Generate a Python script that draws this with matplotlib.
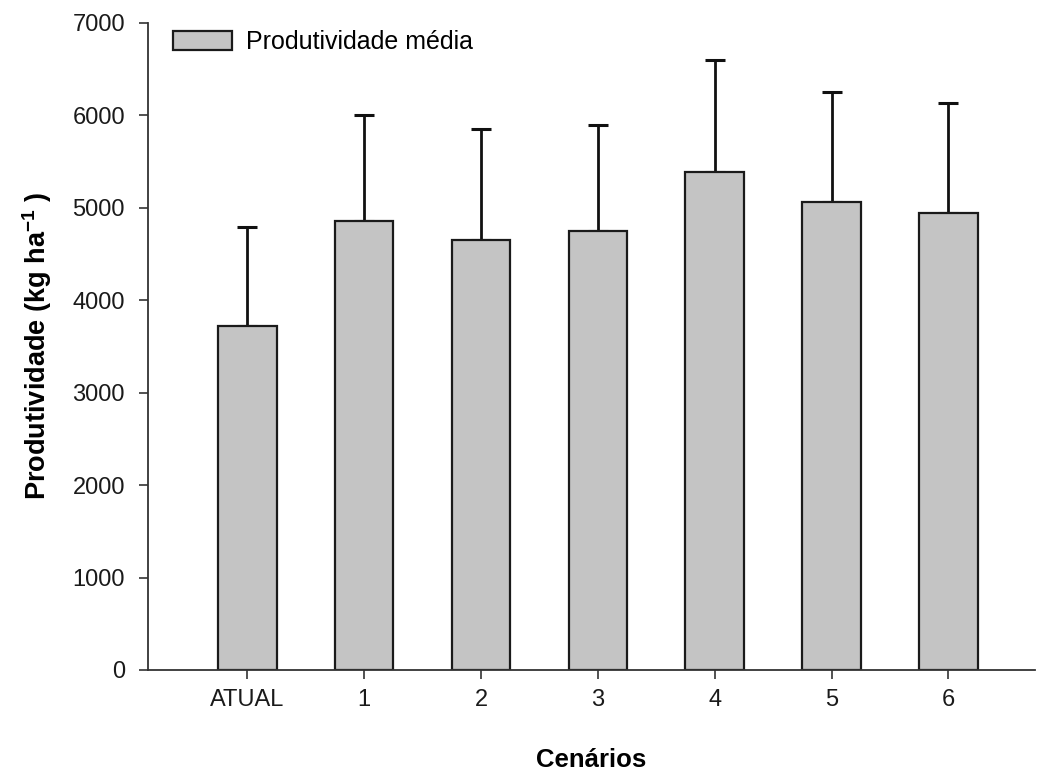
import numpy as np
import matplotlib
matplotlib.use("Agg")
import matplotlib.pyplot as plt

plt.rcParams['font.family'] = ['Liberation Sans', 'DejaVu Sans']
plt.rcParams['mathtext.fontset'] = 'custom'
plt.rcParams['mathtext.rm'] = 'Liberation Sans'
plt.rcParams['mathtext.bf'] = 'Liberation Sans:bold'

# data
cenarios = ['ATUAL', '1', '2', '3', '4', '5', '6']
produtividade = [3720, 4860, 4650, 4750, 5390, 5060, 4940]
desvio = [1070, 1140, 1195, 1140, 1205, 1195, 1195]


def plot_produtividade():
    fig = plt.figure(figsize=(10.4, 7.74), dpi=100)
    ax = fig.add_axes([0.1423, 0.1344, 0.8527, 0.8363])

    x = np.arange(len(cenarios))
    ax.bar(x, produtividade, width=0.5, color='#c4c4c4', edgecolor='#1a1a1a',
           linewidth=1.6, label='Produtividade média', zorder=2,
           yerr=[np.zeros(len(desvio)), desvio],
           error_kw={'ecolor': '#111111', 'elinewidth': 2.0,
                     'capsize': 7, 'capthick': 2.2, 'zorder': 1})

    ax.set_xlim(-0.85, 6.74)
    ax.set_ylim(0, 7000)
    ax.set_yticks(np.arange(0, 7001, 1000))
    ax.set_xticks(x)
    ax.set_xticklabels(cenarios)

    for s in ['top', 'right']:
        ax.spines[s].set_visible(False)
    for s in ['left', 'bottom']:
        ax.spines[s].set_linewidth(1.3)
        ax.spines[s].set_color('#333333')

    ax.tick_params(axis='both', direction='out', length=6.5, width=1.2,
                   colors='#333333', labelsize=17, labelcolor='#1a1a1a')
    ax.tick_params(axis='x', pad=7.5)
    ax.tick_params(axis='y', pad=10)

    ax.set_xlabel('Cenários', fontsize=18.5, fontweight='bold', labelpad=26)
    ax.set_ylabel(r'Produtividade (kg ha$^{\mathbf{-1}}$ )', fontsize=19.5,
                  fontweight='bold', labelpad=13)

    ax.legend(loc='upper left', bbox_to_anchor=(173 / 1040, 1 - 30 / 774),
              bbox_transform=fig.transFigure, frameon=False,
              fontsize=18, handlelength=2.35, handleheight=0.8,
              handletextpad=0.55, borderpad=0, borderaxespad=0)

    fig.savefig('out.png', dpi=100)


if __name__ == "__main__":
    plot_produtividade()
